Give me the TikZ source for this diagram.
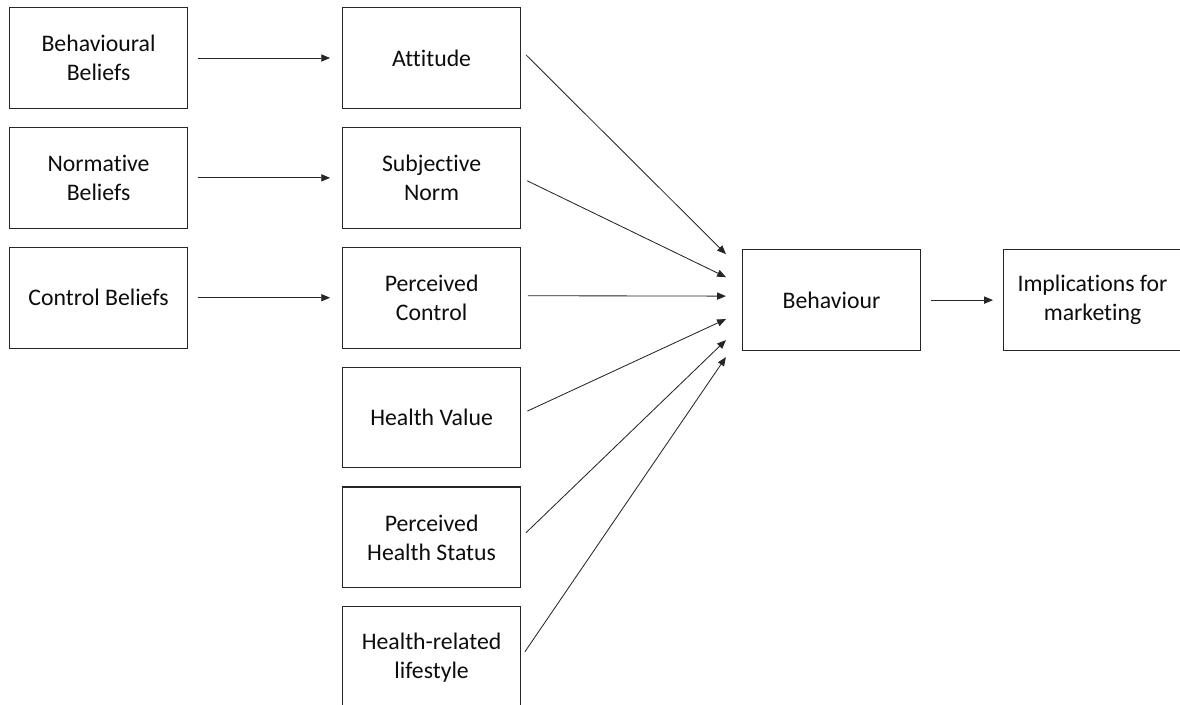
\documentclass[tikz,border=0pt]{standalone}
\usepackage{fontspec}
\setmainfont{Carlito}[Ligatures=NoCommon]
\usetikzlibrary{arrows.meta,calc,positioning}

\begin{document}
\begin{tikzpicture}[
  box/.style={draw=black!85, line width=0.75pt, minimum width=4.45cm, minimum height=2.52cm,
    align=center, text=black!95, font=\fontsize{16.9pt}{20.6pt}\selectfont},
  link/.style={draw=black!85, line width=0.6pt, -{Triangle[length=0.22cm, width=0.18cm]}}
]

% page size
\useasboundingbox (0,0) rectangle (29.5,-17.6);

% gaps
\def\vgap{0.45cm}
\def\hgap{3.85cm}

% middle column
\node[box] (att) at (10.79,-1.45) {Attitude};
\node[box, below=\vgap of att] (sn) {Subjective\\ Norm};
\node[box, below=\vgap of sn] (pc) {Perceived\\ Control};
\node[box, below=\vgap of pc] (hv) {Health Value};
\node[box, below=\vgap of hv] (phs) {Perceived\\ Health Status};
\node[box, below=\vgap of phs] (hrl) {Health-related\\ lifestyle};

% left column
\node[box, left=\hgap of att] (bb) {Behavioural\\ Beliefs};
\node[box, left=\hgap of sn] (nb) {Normative\\ Beliefs};
\node[box, left=\hgap of pc] (cb) {Control Beliefs};

% right side
\node[box, right=5.52cm of pc, yshift=-0.06cm] (beh) {Behaviour};
\node[box, right=2.05cm of beh] (impl) {Implications for\\ marketing};

% beliefs -> constructs
\foreach \a/\b in {bb/att, nb/sn, cb/pc}
  \draw[link, shorten <=0.25cm, shorten >=0.3cm] (\a) -- (\b);

% constructs -> behaviour
\foreach \src/\dy/\ty in {att/0.2/1.15, sn/0/0.575, pc/0.05/0.1, hv/0.09/-0.475, phs/0/-1.0, hrl/0/-1.425}
  \draw[link, shorten <=0.17cm] ($(\src.east)+(0,\dy)$) -- ($(beh.west)+(-0.4,\ty)$);

% behaviour -> implications
\draw[link, shorten <=0.25cm, shorten >=0.25cm] (beh) -- (impl);

\end{tikzpicture}
\end{document}
